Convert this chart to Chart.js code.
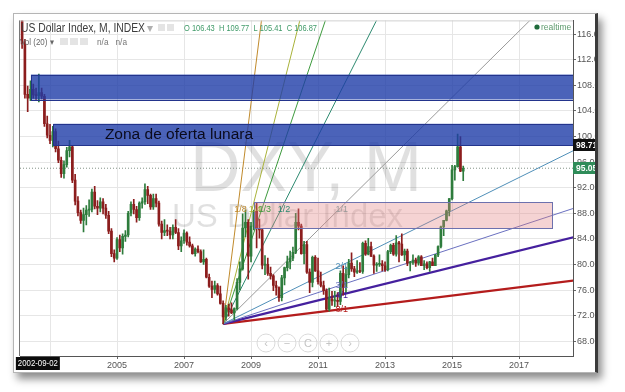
<!DOCTYPE html>
<html>
<head>
<meta charset="utf-8">
<script src="https://cdn.jsdelivr.net/npm/chart.js@4.4.0/dist/chart.umd.min.js"></script>
<style>
  html, body { margin: 0; padding: 0; background: #fff; width: 625px; height: 392px; overflow: hidden; }
  #frame {
    position: absolute; left: 13px; top: 13px; width: 581px; height: 358px;
    border: 1px solid #b5b5b5; border-right: 3px solid #3a3a3a;
    overflow: hidden; background: #fff;
    box-shadow: 4px 6px 8px rgba(0,0,0,0.45);
  }
  #dxy { position: absolute; left: 0; top: 0; }
</style>
</head>
<body>
<div id="frame"><canvas id="dxy" width="611" height="358"></canvas></div>
<script>
'use strict';

// ---- data: US Dollar Index, monthly bars from 2002-03 ----
const firstYear = 2002, firstMonth = 3;

const candleOpen = [
  119.3,114.5,106.6,106.0,107.4,106.5,106.43,106.9,106.3,102.0,
  100.2,99.4,100.8,98.1,96.3,94.2,95.6,97.8,98.4,93.2,89.9,88.1,
  86.9,87.8,88.5,88.6,91.3,89.1,88.8,89.8,88.8,87.7,85.2,81.7,
  81.0,83.9,82.6,84.4,84.6,88.0,89.4,88.6,87.3,89.6,89.8,91.7,
  90.8,89.0,90.3,89.6,86.3,85.0,85.3,85.2,84.6,85.8,85.0,82.9,
  83.7,84.9,83.5,82.9,81.7,82.4,82.0,80.4,80.8,78.0,76.6,76.1,
  76.7,75.4,73.9,71.8,73.2,72.9,72.4,73.1,77.2,79.3,85.7,86.6,
  81.3,86.0,88.3,85.6,85.4,79.9,80.0,78.6,78.2,76.7,76.4,74.8,
  77.9,79.5,80.4,81.0,81.9,86.6,86.0,81.7,83.1,78.8,77.2,81.1,
  79.0,77.3,76.7,75.9,73.0,74.6,74.3,74.4,74.2,78.6,76.4,78.4,
  80.2,79.3,78.8,79.0,78.9,83.3,81.6,82.8,81.3,79.9,80.0,80.1,
  79.8,79.2,82.0,83.0,81.6,83.4,83.2,81.5,82.1,80.2,80.3,80.7,
  80.2,81.2,79.8,80.1,79.5,80.4,79.8,81.5,82.8,85.9,86.9,88.4,
  90.3,94.8,95.3,98.4,94.6
];
const candleHigh = [
  120.3,115.2,107.9,108.7,108.2,107.6,109.77,107.6,106.6,103.2,
  101.9,101.6,101.2,99.3,96.8,96.2,98.3,99.4,98.6,94.1,90.6,88.5,
  88.8,89.2,90.1,91.8,92.2,90.0,90.4,90.3,89.4,88.3,85.6,82.3,
  84.2,84.6,84.8,85.3,88.3,89.8,90.2,89.1,89.8,90.4,92.6,92.2,
  91.0,91.0,91.0,89.9,86.8,87.0,86.2,85.8,86.2,87.0,85.6,84.3,
  85.4,85.1,84.3,83.2,82.6,82.9,82.3,82.3,81.0,78.5,77.4,77.4,
  77.0,76.6,74.3,73.6,73.8,74.0,73.2,77.8,80.4,87.9,88.5,87.0,
  86.6,88.5,89.6,87.1,85.6,81.4,81.0,79.6,78.4,77.4,76.5,78.3,
  79.6,81.3,82.1,82.7,88.0,88.7,86.3,83.6,83.6,79.3,81.3,81.4,
  81.0,78.8,77.4,76.2,76.3,75.8,75.8,75.6,79.0,79.8,79.6,80.8,
  81.8,79.7,80.6,80.3,83.5,83.7,84.1,83.5,81.5,80.3,81.5,80.6,
  80.4,82.2,83.2,83.3,84.5,83.6,84.8,82.4,82.4,80.5,81.5,81.0,
  81.4,81.4,80.6,80.4,80.5,81.0,81.6,82.9,86.0,86.9,88.5,90.3,
  95.5,95.5,100.4,100.0,95.4
];
const candleLow = [
  113.8,106.0,103.9,105.6,106.0,105.8,105.41,105.9,101.6,99.8,
  98.9,98.4,97.6,95.9,93.6,93.5,95.2,96.8,92.8,89.3,87.6,86.4,
  85.1,86.2,87.5,88.2,88.7,87.8,88.2,87.9,87.2,84.8,81.2,80.4,
  80.8,82.0,81.6,83.6,84.3,87.6,87.9,86.6,86.9,88.8,89.4,89.5,
  88.6,88.6,89.0,86.0,84.0,84.5,84.5,84.0,84.0,84.8,82.3,82.0,
  83.3,83.0,82.7,81.6,81.3,81.8,80.3,80.0,77.9,76.4,74.8,75.5,
  75.2,73.8,70.7,71.3,71.9,72.3,71.3,72.9,76.0,79.1,84.3,77.7,
  80.4,85.4,82.6,84.1,79.3,78.4,78.3,77.7,75.9,75.2,74.2,74.3,
  76.8,79.0,79.3,80.6,81.7,85.4,81.6,80.1,78.6,75.6,76.5,78.9,
  76.9,76.5,75.3,72.8,72.7,73.6,73.4,73.4,73.7,75.2,75.6,77.9,
  78.9,78.1,78.6,78.7,78.6,81.4,81.5,81.2,78.6,78.9,79.7,79.0,
  78.9,79.0,81.7,81.4,81.3,80.4,81.4,80.6,79.8,79.0,80.0,79.7,
  79.9,79.8,79.2,79.3,78.9,79.8,79.8,81.2,82.6,84.5,86.8,87.6,
  90.1,93.2,95.2,94.5,93.1
];
const candleClose = [
  114.5,106.6,106.0,107.4,106.5,106.4,106.87,106.3,102.0,100.2,
  99.4,100.8,98.1,96.3,94.2,95.6,97.8,98.4,93.2,89.9,88.1,86.9,
  87.8,88.5,88.6,91.3,89.1,88.8,89.8,88.8,87.7,85.2,81.7,81.0,
  83.9,82.6,84.4,84.6,88.0,89.4,88.6,87.3,89.6,89.8,91.7,90.8,
  89.0,90.3,89.6,86.3,85.0,85.3,85.2,84.6,85.8,85.0,82.9,83.7,
  84.9,83.5,82.9,81.7,82.4,82.0,80.4,80.8,78.0,76.6,76.1,76.7,
  75.4,73.9,71.8,73.2,72.9,72.4,73.1,77.2,79.3,85.7,86.6,81.3,
  86.0,88.3,85.6,85.4,79.9,80.0,78.6,78.2,76.7,76.4,74.8,77.9,
  79.5,80.4,81.0,81.9,86.6,86.0,81.7,83.1,78.8,77.2,81.1,79.0,
  77.3,76.7,75.9,73.0,74.6,74.3,74.4,74.2,78.6,76.4,78.4,80.2,
  79.3,78.8,79.0,78.9,83.3,81.6,82.8,81.3,79.9,80.0,80.1,79.8,
  79.2,82.0,83.0,81.6,83.4,83.2,81.5,82.1,80.2,80.3,80.7,80.2,
  81.2,79.8,80.1,79.5,80.4,79.8,81.5,82.8,85.9,86.9,88.4,90.3,
  94.8,95.3,98.4,94.6,95.05
];

// axes
const xMin = 2002.104, xMax = 2018.61;
const yMin = 65.68, yMax = 118.17;
const xTickYears = [2003, 2005, 2007, 2009, 2011, 2013, 2015, 2017];
const yTickValues = [68, 72, 76, 80, 84, 88, 92, 96, 100, 104, 108, 112, 116];

// gann fan: anchor at the 2008 low, 1/1 box corner
const fanAnchor = { x: 2008.167, y: 70.7 };
const fanCorner = { x: 2011.62, y: 88.6 };
const fanLabels = ['1/8', '1/4', '1/3', '1/2', '1/1', '2/1', '3/1', '4/1', '8/1'];
const fanTime   = [1/8, 1/4, 1/3, 1/2, 1, 1, 1, 1, 1];
const fanPrice  = [1, 1, 1, 1, 1, 1/2, 1/3, 1/4, 1/8];

// zones
const zoneLeft   = [2002.43, 2003.1, 2009.1];
const zoneRight  = [xMax, xMax, 2018.0];
const zoneTop    = [109.7, 102.0, 89.7];
const zoneBottom = [105.8, 98.65, 85.65];
const zoneText = 'Zona de oferta lunara';
const zoneTextAt = { x: 2006.85, y: 100.25 };

const lastPrice = 95.05;
const markPrice = 98.71;
const crossDate = '2002-09-02';
const crossTime = 2002.667;

// ---- styles ----
const UP = '#2e7c3c', DOWN = '#8c1d1d';
const fanColors = ['#c08a2c', '#a9b23a', '#3d9a3d', '#2d8a70', '#9a9a9a', '#4f8fb8', '#6a70c0', '#45209e', '#b41c1c'];
const fanWidths = [1, 1, 1, 1, 1, 1, 1, 2.2, 2.2];
const FONT = "'Liberation Sans', Arial, sans-serif";

const barTime = candleOpen.map((_, i) => firstYear + (firstMonth - 1 + i) / 12);
const barColors = candleOpen.map((o, i) => candleClose[i] >= o ? UP : DOWN);

const fanDatasets = fanLabels.map((lab, i) => ({
  type: 'line',
  label: lab,
  data: [
    { x: fanAnchor.x, y: fanAnchor.y },
    { x: fanAnchor.x + (fanCorner.x - fanAnchor.x) * fanTime[i] * 20,
      y: fanAnchor.y + (fanCorner.y - fanAnchor.y) * fanPrice[i] * 20 }
  ],
  borderColor: fanColors[i],
  borderWidth: fanWidths[i],
  pointRadius: 0,
  order: 3
}));

function px(chart, x, y) {
  return [chart.scales.x.getPixelForValue(x), chart.scales.y.getPixelForValue(y)];
}

const decorPlugin = {
  id: 'decor',
  beforeDatasetsDraw(chart) {
    const { ctx, chartArea: a } = chart;
    ctx.save();
    ctx.beginPath(); ctx.rect(a.left, a.top, a.right - a.left, a.bottom - a.top); ctx.clip();
    ctx.fillStyle = 'rgba(0,0,0,0.12)';
    ctx.textBaseline = 'alphabetic';
    ctx.font = '70px ' + FONT;
    ctx.fillText('DXY, M', 176, 177, 244);
    ctx.font = '33px ' + FONT;
    ctx.fillText('US Dollar Index', 158, 213, 238);
    ctx.restore();
  },
  afterDatasetsDraw(chart) {
    const { ctx, chartArea: a } = chart;
    ctx.save();
    ctx.beginPath(); ctx.rect(a.left, a.top, a.right - a.left, a.bottom - a.top); ctx.clip();
    zoneLeft.forEach((x0, i) => {
      const [l, t] = px(chart, x0, zoneTop[i]);
      const [r, b] = px(chart, zoneRight[i], zoneBottom[i]);
      ctx.fillStyle = i < 2 ? 'rgba(30,60,168,0.8)' : 'rgba(226,130,130,0.35)';
      ctx.strokeStyle = i < 2 ? '#23348c' : '#6d71ae';
      ctx.lineWidth = 1;
      ctx.fillRect(l, t, r - l, b - t);
      ctx.strokeRect(Math.round(l) + 0.5, Math.round(t) + 0.5, Math.round(r - l), Math.round(b - t));
    });
    const [tx, ty] = px(chart, zoneTextAt.x, zoneTextAt.y);
    ctx.fillStyle = '#0a0a1c';
    ctx.font = '15.5px ' + FONT;
    ctx.textAlign = 'center';
    ctx.textBaseline = 'middle';
    ctx.fillText(zoneText, tx, ty, 152);

    ctx.font = '9px ' + FONT;
    fanLabels.forEach((lab, i) => {
      const [lx, ly] = px(chart,
        fanAnchor.x + (fanCorner.x - fanAnchor.x) * fanTime[i],
        fanAnchor.y + (fanCorner.y - fanAnchor.y) * fanPrice[i]);
      ctx.fillStyle = fanColors[i];
      ctx.fillText(lab, lx + 3, ly);
    });
    ctx.restore();

    ctx.save();
    ctx.strokeStyle = '#777';
    ctx.beginPath(); ctx.moveTo(a.left - 0.5, a.top); ctx.lineTo(a.left - 0.5, a.bottom); ctx.stroke();
    ctx.strokeStyle = '#d0d0d0';
    ctx.beginPath(); ctx.moveTo(a.left, a.top + 0.5); ctx.lineTo(a.right, a.top + 0.5); ctx.stroke();
    ctx.restore();
  },
  afterDraw(chart) {
    const { ctx, chartArea: a } = chart;
    ctx.save();
    ctx.textBaseline = 'alphabetic';
    ctx.textAlign = 'left';
    ctx.fillStyle = '#3c3c3c';
    ctx.font = '12px ' + FONT;
    ctx.fillText('US Dollar Index, M, INDEX', 7, 18, 124);
    ctx.fillStyle = '#b0b0b0';
    ctx.fillText('\u25BE', 133, 18);
    ctx.fillStyle = '#e4e4e4';
    ctx.fillRect(144, 10, 7, 7); ctx.fillRect(153, 10, 7, 7);
    ctx.fillStyle = '#3f9a68';
    ctx.font = '9.5px ' + FONT;
    ctx.fillText('O 106.43  H 109.77  L 105.41  C 106.87', 170, 17, 133);
    ctx.fillStyle = '#666';
    ctx.font = '9px ' + FONT;
    ctx.fillText('Vol (20) \u25BE', 6, 31, 34);
    ctx.fillStyle = '#e4e4e4';
    ctx.fillRect(46, 24, 8, 7); ctx.fillRect(56, 24, 8, 7); ctx.fillRect(66, 24, 8, 7);
    ctx.fillStyle = '#777';
    ctx.fillText('n/a   n/a', 83, 31, 30);
    ctx.fillStyle = '#1f6b3b';
    ctx.beginPath(); ctx.arc(523, 13, 2.6, 0, Math.PI * 2); ctx.fill();
    ctx.fillStyle = '#5c9a6c';
    ctx.font = '8.5px ' + FONT;
    ctx.fillText('realtime', 527, 16);

    // price boxes on the axis
    ctx.font = 'bold 8.5px ' + FONT;
    ctx.textBaseline = 'middle';
    [[markPrice, '#111'], [lastPrice, '#2f8c59']].forEach(([v, col]) => {
      const y = chart.scales.y.getPixelForValue(v);
      ctx.fillStyle = col;
      ctx.fillRect(a.right, Math.round(y) - 6, 26, 12);
      ctx.fillStyle = '#fff';
      ctx.fillText(v.toFixed(2), a.right + 3, y + 0.5);
    });

    // crosshair date box
    const cx = chart.scales.x.getPixelForValue(crossTime);
    ctx.fillStyle = '#0c0c0c';
    ctx.fillRect(cx - 23, a.bottom + 1, 44, 13);
    ctx.fillStyle = '#fff';
    ctx.font = '8.5px ' + FONT;
    ctx.textAlign = 'center';
    ctx.fillText(crossDate, cx - 1, a.bottom + 8, 40);

    // zoom buttons
    ['\u2039', '\u2212', 'C', '+', '\u203A'].forEach((g, i) => {
      const bx = 252 + i * 21, by = 329;
      ctx.strokeStyle = '#dadada';
      ctx.lineWidth = 1;
      ctx.beginPath(); ctx.arc(bx, by, 9, 0, Math.PI * 2); ctx.stroke();
      ctx.fillStyle = '#c4c4c4';
      ctx.font = '11px ' + FONT;
      ctx.fillText(g, bx, by + 1);
    });
    ctx.restore();
  }
};

new Chart(document.getElementById('dxy'), {
  type: 'bar',
  data: {
    datasets: [
      {
        label: 'body',
        data: barTime.map((t, i) => ({ x: t, y: [candleOpen[i], candleClose[i]] })),
        backgroundColor: barColors,
        barThickness: 2,
        minBarLength: 1,
        grouped: false,
        order: 1
      },
      {
        label: 'wick',
        data: barTime.map((t, i) => ({ x: t, y: [candleLow[i], candleHigh[i]] })),
        backgroundColor: barColors,
        barThickness: 1,
        grouped: false,
        order: 2
      },
      {
        type: 'line',
        label: 'last',
        data: [{ x: xMin, y: lastPrice }, { x: xMax, y: lastPrice }],
        borderColor: 'rgba(90,110,95,0.75)',
        borderWidth: 1,
        borderDash: [1, 2],
        pointRadius: 0,
        order: 4
      },
      ...fanDatasets
    ]
  },
  options: {
    responsive: false,
    animation: false,
    events: [],
    layout: { padding: { left: 6, top: 3, right: 26, bottom: 2 } },
    plugins: { legend: { display: false }, tooltip: { enabled: false } },
    scales: {
      x: {
        type: 'linear', min: xMin, max: xMax, offset: false,
        afterBuildTicks: s => { s.ticks = xTickYears.map(v => ({ value: v })); },
        afterFit: s => { s.height = 14; },
        grid: { color: '#e6e6e6', offset: false, tickLength: 3, tickColor: '#666' },
        border: { color: '#555' },
        ticks: { font: { family: FONT, size: 9 }, color: '#555', padding: 1, maxRotation: 0, callback: v => String(v) }
      },
      y: {
        type: 'linear', position: 'right', min: yMin, max: yMax,
        afterBuildTicks: s => { s.ticks = yTickValues.map(v => ({ value: v })); },
        afterFit: s => { s.width = 26; },
        grid: { color: '#e6e6e6', tickLength: 3, tickColor: '#666' },
        border: { color: '#555' },
        ticks: { font: { family: FONT, size: 9 }, color: '#555', padding: 1, callback: v => v.toFixed(2) }
      }
    }
  },
  plugins: [decorPlugin]
});
</script>
</body>
</html>
